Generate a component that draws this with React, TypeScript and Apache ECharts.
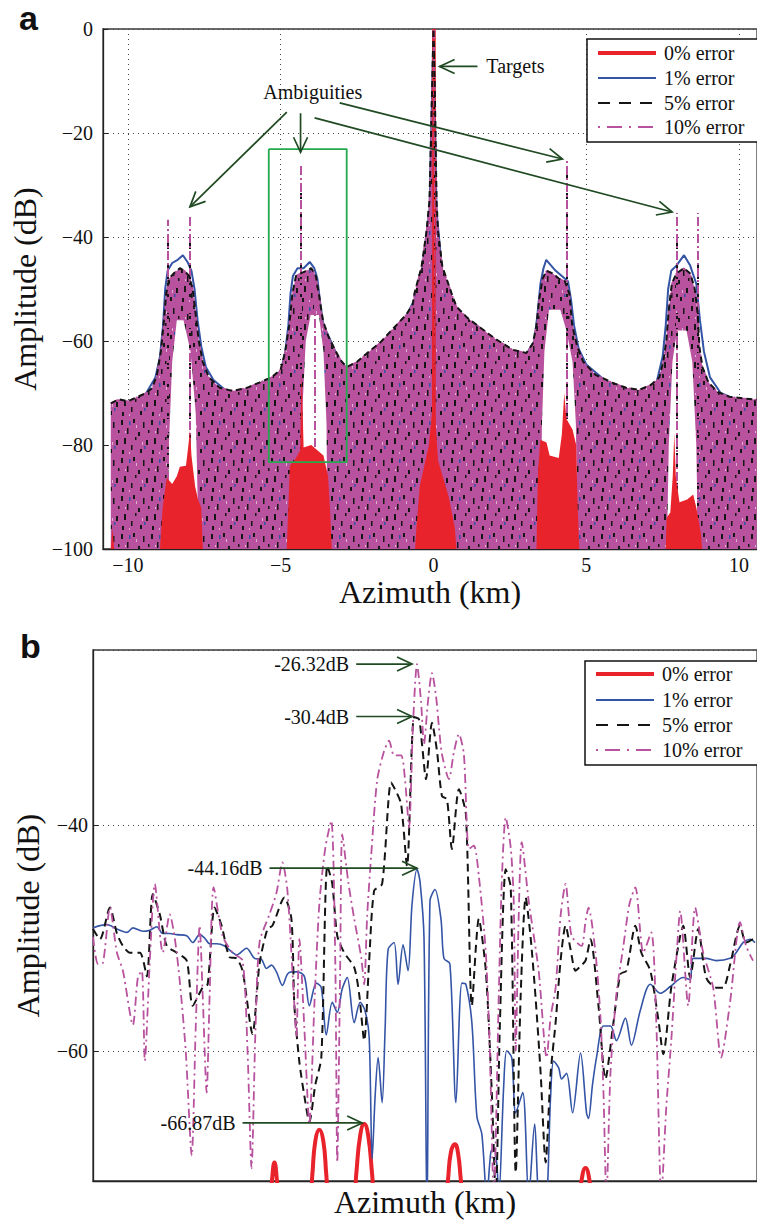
import React, { useEffect, useRef } from 'react';
import * as echarts from 'echarts';

// ---------- shared ----------
const seriesNames = ['0% error', '1% error', '5% error', '10% error'];
const RED = '#E8232B';
const BLUE = '#3454A6';
const BLACK = '#141414';
const MAGENTA = '#B8529E';
const GREEN = '#25A94F';
const ARROW = '#1F4A22';
const FONT = 'Liberation Serif, Times New Roman, serif';
const SANS = 'Liberation Sans, Arial, sans-serif';

// ---------- panel a (full scene, azimuth km / amplitude dB) ----------
const xRangeA = [-10.815, 10.587];
const yRangeA = [-100, 0];

// upper envelope of the dense 5% / 10% error traces
const envelopeA = [
  [-10.56, -72], [-10.3, -71.2], [-10.0, -71.6], [-9.7, -70.8], [-9.4, -70], [-9.2, -69], [-9.05, -66.5],
  [-8.92, -62], [-8.82, -56], [-8.75, -51], [-8.65, -48], [-8.5, -47], [-8.3, -46], [-8.15, -46.5],
  [-8.0, -47.5], [-7.88, -50], [-7.78, -55], [-7.68, -60], [-7.55, -64], [-7.35, -67], [-7.0, -69],
  [-6.57, -69.6], [-6.1, -69], [-5.7, -68], [-5.3, -67], [-5.0, -65.5], [-4.85, -62], [-4.72, -57],
  [-4.62, -51], [-4.5, -47.5], [-4.35, -47], [-4.15, -46.5], [-4.0, -46], [-3.85, -47.5], [-3.75, -51],
  [-3.62, -56], [-3.45, -59], [-3.2, -62], [-3.0, -64], [-2.84, -65], [-2.5, -64], [-2.1, -62],
  [-1.76, -60.4], [-1.3, -57.5], [-0.9, -55], [-0.68, -53], [-0.62, -50.8], [-0.39, -45.7], [-0.23, -39],
  [-0.13, -33], [-0.04, -10], [0, 0], [0.04, -10], [0.1, -33], [0.15, -39], [0.29, -45.7], [0.59, -50.8],
  [0.75, -53.4], [1.1, -55.5], [1.5, -57.3], [2.0, -59.5], [2.6, -61.7], [3.04, -62.3], [3.25, -60.5],
  [3.37, -57], [3.46, -52], [3.57, -48], [3.7, -46.5], [3.9, -47], [4.1, -48], [4.3, -48.5], [4.45, -51],
  [4.54, -57], [4.7, -61], [4.9, -64], [5.3, -66.5], [5.85, -68], [6.3, -69], [6.73, -69.4], [7.1, -68.5],
  [7.39, -67], [7.52, -64], [7.62, -60], [7.7, -54], [7.8, -49], [7.95, -47], [8.2, -46], [8.4, -47],
  [8.55, -50], [8.65, -55], [8.7, -61], [8.8, -65], [9.0, -68], [9.3, -69.8], [9.67, -70.7], [10.1, -71],
  [10.58, -71.3],
];

// 1% error trace (visible where it rises outside the dense traces)
const blueA = [
  [-10.56, -73], [-9.8, -72], [-9.4, -70], [-9.1, -67], [-8.95, -63], [-8.85, -57], [-8.78, -50],
  [-8.7, -46.5], [-8.55, -45], [-8.4, -44.5], [-8.2, -43.5], [-8.05, -44.8], [-7.92, -46.5], [-7.82, -50],
  [-7.72, -56], [-7.6, -61], [-7.45, -65], [-7.2, -67.5], [-6.6, -70.5], [-5.5, -68.5], [-5.0, -66],
  [-4.85, -62], [-4.75, -57], [-4.68, -51], [-4.6, -47.5], [-4.45, -46], [-4.25, -46], [-4.05, -44.8],
  [-3.9, -46], [-3.8, -48], [-3.7, -53], [-3.6, -57], [-3.4, -59.5], [-3.1, -63.5], [-2.84, -66],
  [-2.0, -62.5], [-1.0, -56.5], [-0.62, -52], [-0.39, -47], [-0.13, -35], [0, 0], [0.1, -35],
  [0.29, -47], [0.59, -52], [1.0, -56.5], [2.0, -60.5], [3.0, -63], [3.3, -60], [3.4, -55], [3.5, -49],
  [3.6, -46], [3.69, -44.4], [3.85, -45.5], [4.0, -46.5], [4.2, -47.5], [4.4, -48.5], [4.5, -52], [4.6, -57],
  [4.75, -61.5], [5.0, -64.5], [5.8, -68.5], [6.7, -70], [7.3, -68], [7.5, -63], [7.6, -57], [7.68, -50],
  [7.78, -46.5], [7.95, -45.5], [8.2, -43.5], [8.4, -45.5], [8.6, -49], [8.72, -56], [8.85, -62], [9.05, -67],
  [9.4, -70], [10.0, -71.5], [10.58, -72],
];

// 0% error trace (filled, mostly below the visible range)
const redA = [
  [-10.56, -100], [-10.5, -96], [-10.45, -100],
  [-8.95, -100], [-8.86, -92], [-8.73, -86.3], [-8.55, -87.5], [-8.4, -86], [-8.3, -84.2], [-8.1, -84],
  [-8.02, -80], [-7.97, -77.1], [-7.92, -82], [-7.8, -88], [-7.7, -90.6], [-7.6, -92], [-7.55, -100],
  [-4.8, -100], [-4.77, -95], [-4.7, -84], [-4.5, -82.5], [-4.36, -81], [-4.33, -70], [-4.31, -66.2],
  [-4.29, -72], [-4.25, -80.5], [-4.0, -80], [-3.8, -81], [-3.6, -82], [-3.45, -86], [-3.38, -93], [-3.33, -100],
  [-0.6, -100], [-0.56, -96], [-0.45, -88], [-0.3, -84], [-0.15, -80], [-0.05, -74], [-0.01, -20], [0, 0],
  [0.01, -20], [0.05, -74], [0.15, -83], [0.3, -86], [0.5, -90], [0.7, -96], [0.75, -100],
  [3.37, -100], [3.42, -85], [3.5, -79], [3.7, -79.5], [3.8, -82], [4.1, -82.5], [4.2, -78], [4.28, -70],
  [4.35, -75], [4.55, -77], [4.67, -80], [4.72, -92], [4.77, -100],
  [7.6, -100], [7.63, -94], [7.75, -93], [7.83, -86], [7.88, -77.7], [7.93, -86], [8.05, -91], [8.3, -90.5],
  [8.5, -89.5], [8.6, -92], [8.75, -97], [8.79, -100],
];

// empty slits inside the ambiguity / target lobes
const notchesA = [
  [-8.7, -100], [-8.66, -80], [-8.55, -64], [-8.4, -56], [-8.18, -56], [-7.95, -62], [-7.78, -74], [-7.68, -100],
  [-4.3, -100], [-4.28, -72], [-4.18, -60], [-4.02, -55], [-3.75, -55], [-3.6, -62], [-3.5, -76], [-3.47, -100],
  [-0.2, -100], [-0.18, -81], [0.11, -81], [0.13, -100],
  [3.5, -100], [3.55, -76], [3.63, -62], [3.78, -54], [4.15, -54], [4.35, -58], [4.55, -64], [4.66, -76], [4.72, -100],
  [7.64, -100], [7.7, -80], [7.82, -64], [7.97, -58], [8.28, -58], [8.47, -64], [8.6, -80], [8.66, -100],
];

// narrow peaks (azimuth, peak dB)
const spikes10A = [[-8.69, -36.7], [-7.97, -35.8], [-4.35, -25.8], [-3.9, -47.7], [0, 0], [4.35, -25.2], [7.97, -35.4], [8.66, -35.4]];
const spikes5A = [[-8.69, -41], [-7.97, -40], [-4.35, -30], [0, 0], [4.35, -28], [7.97, -40], [8.66, -45]];
const spikes0A = [[0, 0]];

// zoom window shown in panel b
const zoomBoxA = [[-5.39, -23.1], [-2.84, -23.1], [-2.84, -83.3], [-5.39, -83.3], [-5.39, -23.1]];

const arrowsA = [
  { from: [1.44, -7.2], to: [0.2, -7.2] },
  { from: [-4.8, -16.0], to: [-7.97, -34.2] },
  { from: [-4.35, -16.2], to: [-4.35, -23.7] },
  { from: [-3.07, -14.2], to: [4.22, -25.0] },
  { from: [-3.89, -17.1], to: [7.81, -35.2] },
];
const labelsA = [
  { text: 'Ambiguities', at: [-3.95, -12.1], align: 'center' },
  { text: 'Targets', at: [1.73, -7.2], align: 'left' },
];

// ---------- panel b (zoom on the ambiguity near -4.3 km) ----------
const xRangeB = [-5.6, -2.936];
const yRangeB = [-71.55, -24.45];

const redB = [
  [-5.6, -75], [-4.92, -75], [-4.892, -74], [-4.882, -71.5], [-4.872, -69.9], [-4.862, -71.5], [-4.852, -74],
  [-4.732, -74], [-4.72, -71], [-4.708, -68], [-4.692, -67.0], [-4.676, -68], [-4.664, -71], [-4.652, -74],
  [-4.556, -74], [-4.544, -71], [-4.528, -67.5], [-4.512, -66.5], [-4.496, -67.5], [-4.48, -71], [-4.468, -74],
  [-4.188, -74], [-4.176, -71.5], [-4.164, -69], [-4.148, -68.3], [-4.136, -69], [-4.124, -71.5], [-4.112, -74],
  [-3.656, -74], [-3.644, -72], [-3.624, -70.4], [-3.604, -72], [-3.592, -74], [-2.936, -75],
];

const blueB = [
  [-5.6, -49.1], [-5.572, -48.9], [-5.544, -48.8], [-5.504, -49.2], [-5.464, -49.5], [-5.44, -49.1], [-5.4, -49.4],
  [-5.372, -49.3], [-5.344, -49.0], [-5.32, -49.6], [-5.292, -49.6], [-5.264, -49.7], [-5.224, -49.8], [-5.2, -50.4],
  [-5.172, -49.7], [-5.152, -50.0], [-5.132, -50.5], [-5.104, -50.5], [-5.072, -50.7], [-5.04, -51.3], [-5.024, -51.5],
  [-4.984, -50.9], [-4.952, -51.8], [-4.924, -51.9], [-4.904, -52.7], [-4.884, -52.4], [-4.864, -53.0], [-4.84, -54.2],
  [-4.82, -53.2], [-4.804, -53.0], [-4.78, -53.0], [-4.752, -53.4], [-4.732, -56.0], [-4.704, -54.0], [-4.684, -54.4],
  [-4.664, -58.6], [-4.64, -55.7], [-4.62, -56.6], [-4.6, -54.5], [-4.58, -53.5], [-4.552, -57.5], [-4.528, -55.7],
  [-4.508, -56.5], [-4.492, -58.8], [-4.48, -69.6], [-4.468, -64.0], [-4.456, -60.6], [-4.44, -64.6], [-4.428, -58.0],
  [-4.416, -51.0], [-4.392, -50.4], [-4.376, -54.1], [-4.356, -50.6], [-4.336, -52.9], [-4.32, -47.0], [-4.3, -43.9],
  [-4.288, -45.0], [-4.272, -50.0], [-4.26, -75], [-4.248, -46.7], [-4.228, -45.7], [-4.204, -48.3], [-4.192, -51.8],
  [-4.168, -52.3], [-4.144, -64.6], [-4.12, -54.0], [-4.104, -54.1], [-4.08, -57.5], [-4.06, -65.8], [-4.04, -67.4],
  [-4.02, -73], [-4.004, -69], [-3.992, -68.6], [-3.98, -70], [-3.972, -73], [-3.952, -63], [-3.94, -60.0],
  [-3.92, -60.6], [-3.904, -65.5], [-3.876, -63.7], [-3.852, -73], [-3.828, -66.5], [-3.808, -73], [-3.784, -73],
  [-3.764, -64], [-3.752, -60.9], [-3.732, -61.5], [-3.72, -62.5], [-3.7, -62.0], [-3.676, -65.5], [-3.644, -60.2],
  [-3.62, -65.5], [-3.612, -66], [-3.596, -63], [-3.58, -60.6], [-3.552, -57.8], [-3.524, -57.8], [-3.5, -59.1],
  [-3.464, -57.1], [-3.44, -59.5], [-3.404, -56.4], [-3.364, -54.1], [-3.324, -54.9], [-3.284, -54.3], [-3.232, -53.5],
  [-3.204, -53.7], [-3.192, -51.8], [-3.14, -51.8], [-3.1, -52.0], [-3.044, -51.8], [-3.02, -51.3], [-2.992, -50.4],
  [-2.964, -50.1], [-2.944, -50.4],
];

const blackB = [
  [-5.6, -49.2], [-5.572, -50.1], [-5.532, -47.3], [-5.504, -49.6], [-5.48, -50.7], [-5.452, -51.3], [-5.412, -51.3],
  [-5.384, -53.4], [-5.36, -46.1], [-5.332, -47.9], [-5.304, -50.7], [-5.264, -51.3], [-5.224, -52.0], [-5.2, -56.0],
  [-5.16, -54.4], [-5.14, -54.1], [-5.112, -47.3], [-5.084, -48.9], [-5.052, -51.7], [-5.024, -51.8], [-5.0, -52.9],
  [-4.96, -58.5], [-4.932, -52.3], [-4.9, -49.2], [-4.88, -48.9], [-4.832, -46.4], [-4.804, -48.3], [-4.792, -56],
  [-4.772, -61], [-4.752, -64], [-4.732, -66.3], [-4.708, -63], [-4.684, -60.6], [-4.66, -43.6], [-4.64, -45.2],
  [-4.62, -49.8], [-4.592, -51.3], [-4.552, -52.6], [-4.532, -55], [-4.512, -59.1], [-4.492, -52], [-4.472, -45.8],
  [-4.44, -45.2], [-4.404, -36.2], [-4.384, -37], [-4.364, -38.1], [-4.34, -43.6], [-4.312, -30.4], [-4.292, -30.6],
  [-4.28, -32.8], [-4.264, -35.9], [-4.24, -30.9], [-4.22, -33.4], [-4.2, -37.4], [-4.18, -37.7], [-4.16, -42.1],
  [-4.132, -36.8], [-4.104, -39.0], [-4.08, -56.0], [-4.052, -48.3], [-4.024, -52.9], [-4.0, -63.7], [-3.984, -73],
  [-3.968, -58], [-3.944, -43.9], [-3.924, -45.5], [-3.904, -70.8], [-3.884, -55], [-3.864, -46.4], [-3.844, -50],
  [-3.824, -55.4], [-3.804, -62], [-3.784, -69.9], [-3.764, -62], [-3.744, -57.5], [-3.724, -52], [-3.704, -48.9],
  [-3.684, -51], [-3.664, -52.9], [-3.644, -52.5], [-3.624, -52.0], [-3.604, -50.1], [-3.572, -56.0], [-3.544, -62.5],
  [-3.512, -57.5], [-3.484, -53.2], [-3.46, -52.9], [-3.424, -48.9], [-3.4, -51.3], [-3.364, -52.9], [-3.332, -57.2],
  [-3.312, -60.3], [-3.28, -54.4], [-3.244, -49.8], [-3.232, -48.9], [-3.204, -53.5], [-3.172, -49.2], [-3.14, -53.5],
  [-3.1, -54.4], [-3.072, -54.4], [-3.044, -52.4], [-3.004, -48.9], [-2.98, -50.4], [-2.952, -50.1],
];

const magentaB = [
  [-5.6, -49.9], [-5.58, -52.3], [-5.56, -52.2], [-5.532, -47.3], [-5.504, -51.3], [-5.48, -52.9], [-5.44, -57.7],
  [-5.42, -53.5], [-5.404, -52.9], [-5.392, -60.9], [-5.372, -52], [-5.352, -45.2], [-5.32, -51.3], [-5.292, -47.9],
  [-5.272, -50], [-5.252, -53.8], [-5.228, -60], [-5.204, -69.3], [-5.188, -58], [-5.172, -48.9], [-5.16, -55],
  [-5.144, -63.7], [-5.132, -55], [-5.116, -45.5], [-5.08, -49.8], [-5.04, -51.3], [-5.0, -52.0], [-4.98, -60],
  [-4.964, -70.4], [-4.948, -58], [-4.932, -50.4], [-4.892, -47.9], [-4.864, -46], [-4.84, -43.3], [-4.82, -45.8],
  [-4.792, -56.0], [-4.784, -58.8], [-4.772, -50.1], [-4.752, -58], [-4.732, -66.5], [-4.712, -56], [-4.692, -47],
  [-4.668, -42], [-4.644, -39.6], [-4.628, -52], [-4.62, -69.9], [-4.608, -52], [-4.6, -40.8], [-4.576, -45],
  [-4.552, -48.3], [-4.524, -51.7], [-4.512, -54.1], [-4.5, -48], [-4.484, -42.7], [-4.46, -36], [-4.432, -33.4],
  [-4.412, -32.5], [-4.392, -33.8], [-4.364, -33.8], [-4.348, -36], [-4.332, -40.2], [-4.316, -31], [-4.3, -25.7],
  [-4.284, -29], [-4.272, -32.8], [-4.256, -29], [-4.24, -26.5], [-4.224, -28.5], [-4.212, -31.3], [-4.2, -33.7],
  [-4.172, -35.9], [-4.152, -33.5], [-4.132, -31.9], [-4.112, -33.7], [-4.092, -42.1], [-4.072, -41.8], [-4.052, -44.5],
  [-4.024, -51.3], [-4.008, -60], [-3.992, -73], [-3.972, -55], [-3.96, -45], [-3.944, -39.3], [-3.924, -42],
  [-3.912, -46.7], [-3.904, -60.0], [-3.892, -48], [-3.88, -41.5], [-3.852, -46.7], [-3.812, -52.9], [-3.78, -60.6],
  [-3.764, -57], [-3.744, -54.4], [-3.724, -48], [-3.704, -45.2], [-3.68, -49.8], [-3.64, -50.7], [-3.624, -48.5],
  [-3.612, -47.3], [-3.584, -51.3], [-3.564, -57], [-3.552, -63.7], [-3.54, -73], [-3.524, -62], [-3.5, -55],
  [-3.472, -50.7], [-3.448, -47], [-3.424, -45.5], [-3.392, -51.3], [-3.36, -49.5], [-3.34, -57.5], [-3.32, -73],
  [-3.3, -65], [-3.28, -59.1], [-3.26, -52], [-3.244, -47.6], [-3.212, -56.0], [-3.184, -47.3], [-3.152, -51.3],
  [-3.112, -54.4], [-3.08, -60.6], [-3.044, -55.7], [-3.004, -48.6], [-2.98, -50.7], [-2.952, -52.0],
];

const arrowsB = [
  { from: [-4.544, -25.7], to: [-4.32, -25.7], label: '-26.32dB' },
  { from: [-4.544, -30.35], to: [-4.32, -30.35], label: '-30.4dB' },
  { from: [-4.892, -43.8], to: [-4.3, -43.8], label: '-44.16dB' },
  { from: [-5.0, -66.4], to: [-4.52, -66.4], label: '-66.87dB' },
];

// ---------- helpers ----------
const fmt = (v: number) => (v < 0 ? '\u2212' + Math.abs(v) : String(v));

// mottled fill that imitates the overplotted dash / dash-dot traces
function makeTexture(): string {
  const W = 30;
  const H = 38;
  const c = document.createElement('canvas');
  c.width = W;
  c.height = H;
  const g = c.getContext('2d');
  if (!g) return MAGENTA;
  g.fillStyle = MAGENTA;
  g.fillRect(0, 0, W, H);
  g.fillStyle = '#161616';
  const dark = [
    [1, 2, 2, 5], [7, 10, 1.5, 6], [13, 1, 2, 4], [4, 20, 2, 6], [11, 27, 1.5, 5], [18, 14, 2, 4],
    [23, 4, 1.5, 6], [26, 22, 2, 5], [20, 31, 2, 4], [15, 19, 1.5, 3], [2, 32, 2, 4], [28, 12, 1.5, 3],
  ];
  dark.forEach(([x, y, w, h]) => g.fillRect(x, y, w, h));
  g.fillStyle = BLUE;
  [[9, 3, 1.5, 4], [24, 28, 1.5, 3]].forEach(([x, y, w, h]) => g.fillRect(x, y, w, h));
  g.fillStyle = 'rgba(255,255,255,0.55)';
  [[16, 7, 1, 3], [5, 13, 1, 2], [22, 24, 1, 3], [9, 34, 1, 2]].forEach(([x, y, w, h]) => g.fillRect(x, y, w, h));
  return c.toDataURL();
}

function arrowEls(p0: number[], p1: number[]) {
  const dx = p1[0] - p0[0];
  const dy = p1[1] - p0[1];
  const len = Math.hypot(dx, dy) || 1;
  const ux = dx / len;
  const uy = dy / len;
  const L = 15;
  const W = 7;
  const bx = p1[0] - ux * L;
  const by = p1[1] - uy * L;
  return [
    { type: 'line', z: 100, shape: { x1: p0[0], y1: p0[1], x2: p1[0], y2: p1[1] }, style: { stroke: ARROW, lineWidth: 1.7 } },
    {
      type: 'polyline', z: 100,
      shape: { points: [[bx - uy * W, by + ux * W], [p1[0], p1[1]], [bx + uy * W, by - ux * W]] },
      style: { stroke: ARROW, lineWidth: 1.7, fill: null },
    },
  ];
}

function textEl(text: string, x: number, y: number, align: string, size = 20, family = FONT, weight = 'normal') {
  return {
    type: 'text', z: 112, x, y,
    style: { text, fontSize: size, fontFamily: family, fontWeight: weight, fill: '#111', align, verticalAlign: 'middle' },
  };
}

const legendStyles = [
  { stroke: RED, lineWidth: 4 },
  { stroke: BLUE, lineWidth: 2 },
  { stroke: BLACK, lineWidth: 2, lineDash: [12, 9] },
  { stroke: MAGENTA, lineWidth: 2, lineDash: [2, 7, 15, 7] },
];

function legendEls(x: number, y: number, w: number, h: number, rowY: number[]) {
  const els: any[] = [
    { type: 'rect', z: 110, shape: { x, y, width: w, height: h }, style: { fill: '#fff', stroke: '#111', lineWidth: 1.5 } },
  ];
  seriesNames.forEach((name, i) => {
    els.push({ type: 'line', z: 111, shape: { x1: x + 11, y1: rowY[i], x2: x + 69, y2: rowY[i] }, style: legendStyles[i] });
    els.push(textEl(name, x + 77, rowY[i], 'left'));
  });
  return els;
}

const axisTextStyle = { fontFamily: FONT, fontSize: 20, color: '#111' };
const nameStyle = { fontFamily: FONT, fontSize: 32, color: '#111' };
const gridLine = { show: true, lineStyle: { type: [1, 4], color: '#444', width: 1 } };

export default function App() {
  const ref = useRef<HTMLDivElement>(null);

  useEffect(() => {
    if (!ref.current) return;
    const chart = echarts.init(ref.current, null, { renderer: 'svg' });
    const texture = makeTexture();
    const patternFill = { image: texture, repeat: 'repeat', imageWidth: 30, imageHeight: 38 };

    const spikeSeries = (data: number[][], z: number, lineStyle: any) => ({
      type: 'line', xAxisIndex: 0, yAxisIndex: 0, z, silent: true, symbol: 'none',
      data: data, lineStyle: { width: 0, opacity: 0 },
      markLine: {
        silent: true, symbol: ['none', 'none'], label: { show: false }, animation: false,
        lineStyle,
        data: data.map(([x, y]) => [{ coord: [x, yRangeA[0]] }, { coord: [x, y] }]),
      },
    });

    const option: any = {
      animation: false,
      backgroundColor: '#ffffff',
      grid: [
        { left: 103, top: 29, width: 656, height: 520, show: true, borderColor: '#3a3a3a', borderWidth: 1.3, backgroundColor: 'rgba(0,0,0,0)' },
        { left: 93, top: 650, width: 666, height: 531, show: true, borderColor: '#3a3a3a', borderWidth: 1.3, backgroundColor: 'rgba(0,0,0,0)' },
      ],
      xAxis: [
        {
          type: 'value', gridIndex: 0, min: xRangeA[0], max: xRangeA[1],
          axisLine: { show: true, onZero: false, lineStyle: { color: '#222', width: 1.3 } },
          axisTick: { inside: true, length: 5, lineStyle: { color: '#222' } },
          axisLabel: { ...axisTextStyle, margin: 6, formatter: fmt, showMinLabel: false, showMaxLabel: false },
          splitLine: gridLine,
          name: 'Azimuth (km)', nameLocation: 'middle', nameGap: 26, nameTextStyle: nameStyle,
        },
        {
          type: 'value', gridIndex: 1, min: xRangeB[0], max: xRangeB[1],
          axisLine: { show: true, onZero: false, lineStyle: { color: '#222', width: 1.3 } },
          axisTick: { show: false }, axisLabel: { show: false }, splitLine: { show: false },
          name: 'Azimuth (km)', nameLocation: 'middle', nameGap: 5, nameTextStyle: nameStyle,
        },
      ],
      yAxis: [
        {
          type: 'value', gridIndex: 0, min: yRangeA[0], max: yRangeA[1], interval: 20,
          axisLine: { show: true, onZero: false, lineStyle: { color: '#222', width: 1.3 } },
          axisTick: { show: true, inside: true, length: 5, lineStyle: { color: '#222' } },
          axisLabel: { ...axisTextStyle, margin: 10, formatter: fmt },
          splitLine: gridLine,
          name: 'Amplitude (dB)', nameLocation: 'middle', nameGap: 55, nameTextStyle: nameStyle,
        },
        {
          type: 'value', gridIndex: 1, min: yRangeB[0], max: yRangeB[1], splitNumber: 2,
          axisLine: { show: true, onZero: false, lineStyle: { color: '#222', width: 1.3 } },
          axisTick: { show: true, inside: true, length: 5, lineStyle: { color: '#222' } },
          axisLabel: { ...axisTextStyle, margin: 5, formatter: fmt, showMinLabel: false, showMaxLabel: false },
          splitLine: gridLine,
          name: 'Amplitude (dB)', nameLocation: 'middle', nameGap: 49, nameTextStyle: nameStyle,
        },
      ],
      series: [
        // ----- panel a -----
        { name: seriesNames[1], type: 'line', xAxisIndex: 0, yAxisIndex: 0, z: 2, symbol: 'none', data: blueA,
          lineStyle: { color: BLUE, width: 2 } },
        { name: seriesNames[3], type: 'line', xAxisIndex: 0, yAxisIndex: 0, z: 3, symbol: 'none', data: envelopeA,
          lineStyle: { color: MAGENTA, width: 1.5, type: [8, 3, 2, 3] },
          areaStyle: { origin: 'start', color: patternFill, opacity: 1 } },
        { name: 'gaps', type: 'line', xAxisIndex: 0, yAxisIndex: 0, z: 4, symbol: 'none', silent: true, data: notchesA,
          lineStyle: { width: 0, opacity: 0 }, areaStyle: { origin: 'start', color: '#ffffff', opacity: 1 } },
        { name: seriesNames[2], type: 'line', xAxisIndex: 0, yAxisIndex: 0, z: 5, symbol: 'none', data: envelopeA,
          lineStyle: { color: BLACK, width: 2, type: [6, 4] } },
        { name: seriesNames[0], type: 'line', xAxisIndex: 0, yAxisIndex: 0, z: 6, symbol: 'none', data: redA,
          lineStyle: { width: 0, opacity: 0 }, areaStyle: { origin: 'start', color: RED, opacity: 1 } },
        spikeSeries(spikes0A, 7, { color: RED, width: 3.5, type: 'solid' }),
        spikeSeries(spikes5A, 8, { color: BLACK, width: 2, type: [6, 4] }),
        spikeSeries(spikes10A, 9, { color: MAGENTA, width: 2, type: [9, 3, 2, 3] }),
        { name: 'zoom window', type: 'line', xAxisIndex: 0, yAxisIndex: 0, z: 10, symbol: 'none', silent: true, data: zoomBoxA,
          lineStyle: { color: GREEN, width: 1.8 } },
        // ----- panel b -----
        { name: seriesNames[0], type: 'line', xAxisIndex: 1, yAxisIndex: 1, z: 2, symbol: 'none', smooth: 0.5, data: redB,
          lineStyle: { color: RED, width: 4 } },
        { name: seriesNames[1], type: 'line', xAxisIndex: 1, yAxisIndex: 1, z: 3, symbol: 'none', smooth: 0.3, data: blueB,
          lineStyle: { color: BLUE, width: 1.6 } },
        { name: seriesNames[2], type: 'line', xAxisIndex: 1, yAxisIndex: 1, z: 4, symbol: 'none', smooth: 0.25, data: blackB,
          lineStyle: { color: BLACK, width: 2, type: [8, 5] } },
        { name: seriesNames[3], type: 'line', xAxisIndex: 1, yAxisIndex: 1, z: 5, symbol: 'none', smooth: 0.25, data: magentaB,
          lineStyle: { color: MAGENTA, width: 1.8, type: [9, 4, 2, 4] } },
      ],
    };

    chart.setOption(option);

    const px = (g: number, p: number[]) => chart.convertToPixel({ gridIndex: g }, p) as number[];
    const graphics: any[] = [];

    arrowsA.forEach((a) => graphics.push(...arrowEls(px(0, a.from), px(0, a.to))));
    labelsA.forEach((l) => {
      const p = px(0, l.at);
      graphics.push(textEl(l.text, p[0], p[1], l.align));
    });
    arrowsB.forEach((a) => {
      const p0 = px(1, a.from);
      const p1 = px(1, a.to);
      graphics.push(...arrowEls(p0, p1));
      graphics.push(textEl(a.label, p0[0] - 7, p0[1], 'right'));
    });

    graphics.push(...legendEls(587, 39, 172, 103, [53, 78, 103, 127]));
    graphics.push(...legendEls(585, 661, 174, 104, [674, 700, 725, 750]));

    graphics.push(textEl('a', 19, 18, 'left', 34, SANS, 'bold'));
    graphics.push(textEl('b', 20, 646, 'left', 34, SANS, 'bold'));

    chart.setOption({ graphic: graphics });

    return () => chart.dispose();
  }, []);

  return <div ref={ref} style={{ position: 'absolute', left: 0, top: 0, width: 757, height: 1221 }} />;
}
